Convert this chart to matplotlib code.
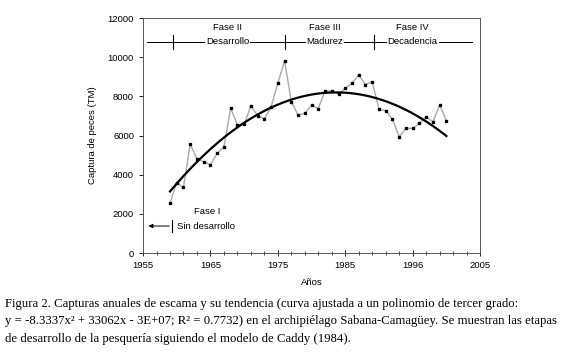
import matplotlib
matplotlib.use("Agg")
import matplotlib.pyplot as plt
import numpy as np

years = list(range(1959, 2001))
catch = [2550, 3600, 3350, 5570, 4800, 4660, 4500, 5090, 5420, 7400,
         6550, 6570, 7510, 7020, 6840, 7470, 8670, 9820, 7730, 7050,
         7130, 7560, 7370, 8290, 8270, 8120, 8410, 8670, 9090, 8600,
         8750, 7340, 7270, 6830, 5940, 6370, 6370, 6620, 6960, 6700,
         7560, 6760]

tick_years = [1955, 1965, 1975, 1985, 1995, 2005]
tick_labels = ['1955', '1965', '1975', '1985', '1996', '2005']

phase_marks = [1959.4, 1976.0, 1989.3]
phase_names = ['Fase II', 'Fase III', 'Fase IV']
phase_stage = ['Desarrollo', 'Madurez', 'Decadencia']
phase_x = [1967.6, 1982.0, 1995.0]

caption = ("Figura 2. Capturas anuales de escama y su tendencia (curva ajustada a un polinomio de tercer grado:\n"
           "y = -8.3337x\u00b2 + 33062x - 3E+07; R\u00b2 = 0.7732) en el archipi\u00e9lago Sabana-Camag\u00fcey. Se muestran las etapas\n"
           "de desarrollo de la pesquer\u00eda siguiendo el modelo de Caddy (1984).")

plt.rcParams['font.family'] = ['Liberation Sans', 'DejaVu Sans']

fig = plt.figure(figsize=(5.66, 3.61), dpi=100)
ax = fig.add_axes([0.2527, 0.299, 0.5955, 0.651])

# data series
ax.plot(years, catch, color='#aaaaaa', lw=1.0, marker='s', ms=1.6,
        mfc='black', mec='black', zorder=3)

# quadratic trend fitted to the data
coef = np.polyfit(years, catch, 2)
xs = np.linspace(years[0], years[-1], 200)
ax.plot(xs, np.polyval(coef, xs), color='black', lw=1.6, zorder=4)

# phase annotations
ytop = 10780
ax.plot([1955.6, 2003.8], [ytop, ytop], color='black', lw=0.7)
for m in phase_marks:
    ax.plot([m, m], [ytop - 350, ytop + 350], color='black', lw=0.8)
for name, stage, px in zip(phase_names, phase_stage, phase_x):
    ax.text(px, 11500, name, ha='center', va='center', fontsize=6.8)
    ax.text(px, ytop, stage, ha='center', va='center', fontsize=6.8,
            bbox=dict(facecolor='white', edgecolor='none', pad=0.6))

ax.text(1964.5, 2100, 'Fase I', ha='center', va='center', fontsize=6.8)
ax.text(1960.0, 1380, 'Sin desarrollo', ha='left', va='center', fontsize=6.8)
ax.annotate('', xy=(1955.4, 1380), xytext=(1959.3, 1380),
            arrowprops=dict(arrowstyle='-|>', color='black', lw=0.7,
                            mutation_scale=6))
ax.plot([1959.3, 1959.3], [1050, 1700], color='black', lw=0.8)

ax.set_xlim(1955, 2005)
ax.set_ylim(0, 12000)
ax.set_xticks(tick_years)
ax.set_xticklabels(tick_labels)
ax.set_xticks(range(1955, 2006, 2), minor=True)
ax.set_yticks(range(0, 12001, 2000))
ax.tick_params(axis='x', which='major', direction='inout', length=4, labelsize=6.8, width=0.6)
ax.tick_params(axis='x', which='minor', direction='inout', length=3, width=0.5)
ax.tick_params(axis='y', direction='out', length=3, labelsize=6.8, width=0.6)
for s in ax.spines.values():
    s.set_linewidth(0.7)
    s.set_color('#555555')

ax.set_ylabel('Captura de peces (TM)', fontsize=6.8, labelpad=8)
ax.set_xlabel('A\u00f1os', fontsize=6.8, labelpad=6)

fig.text(0.009, 1 - 298 / 361, caption, ha='left', va='top', fontsize=9.2,
         family=['Liberation Serif', 'DejaVu Serif'], linespacing=1.6)

fig.savefig('out.png', dpi=100)
